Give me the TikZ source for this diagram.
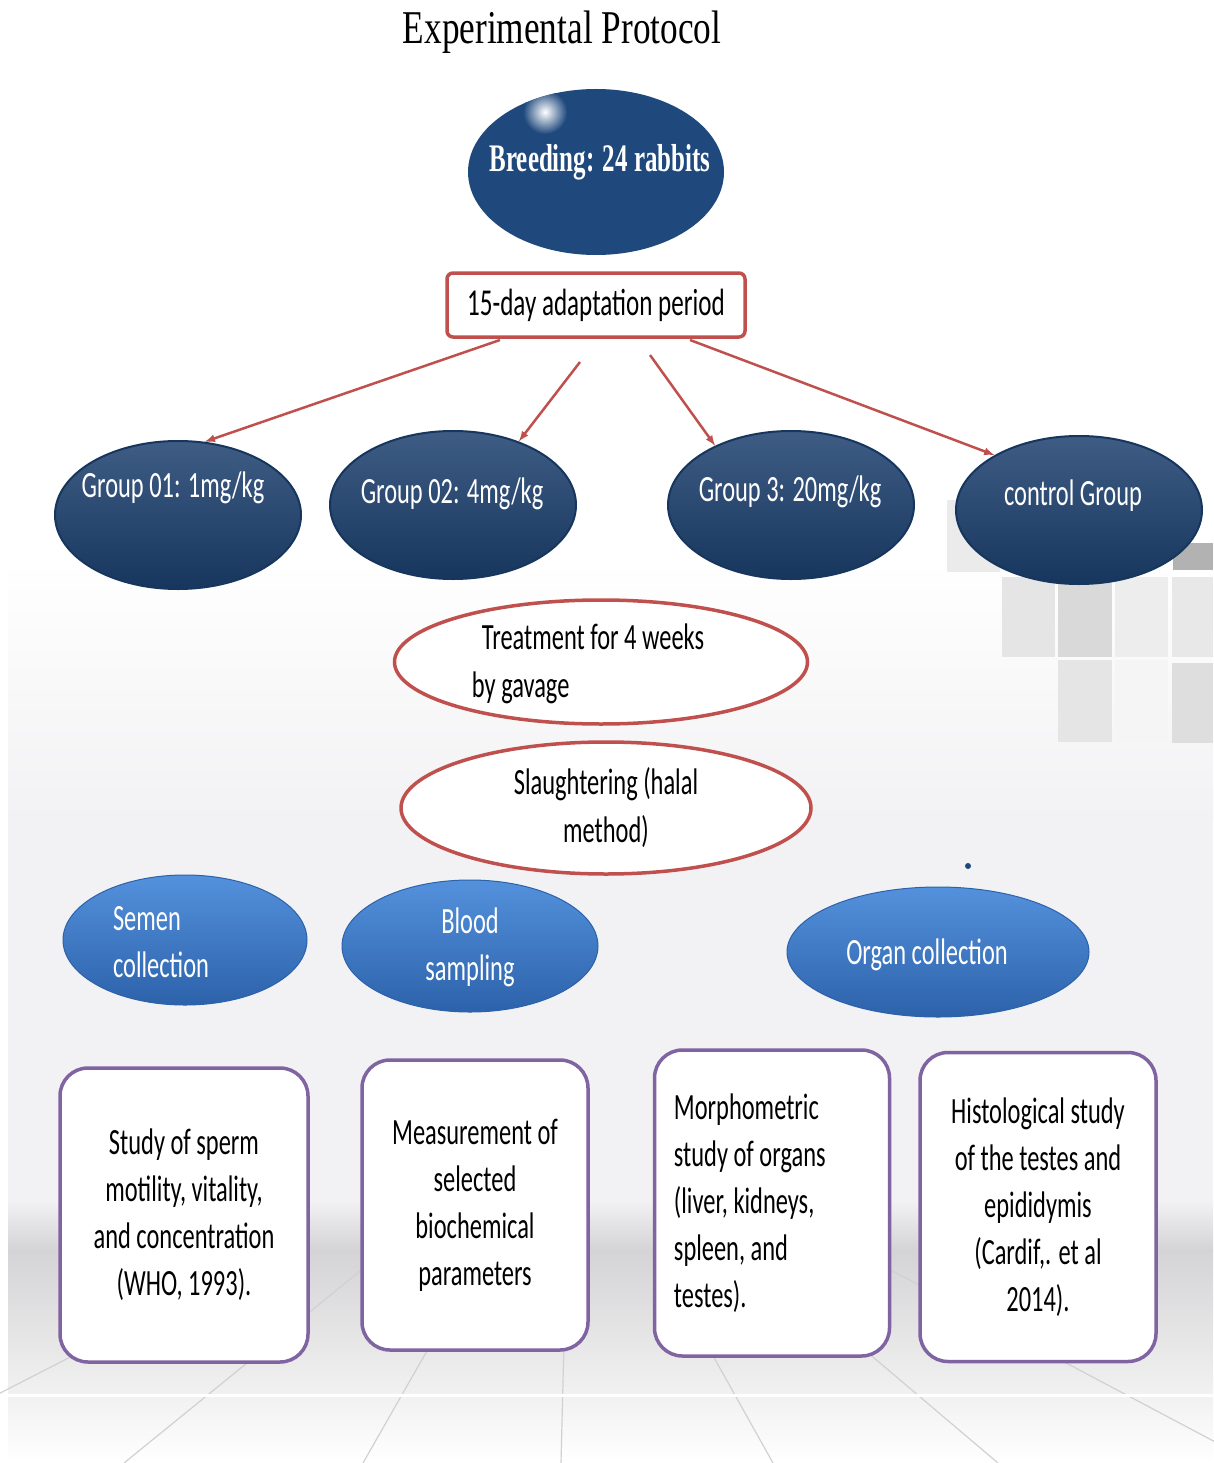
\documentclass[tikz,border=0pt]{standalone}
\usepackage{fontspec}
\setmainfont{Carlito}[FakeStretch=0.66]
\newfontfamily\titlefont{Liberation Serif}[FakeStretch=0.75]
\newfontfamily\breedfont{Liberation Serif}[FakeStretch=0.64]
\usetikzlibrary{shapes.geometric}

\definecolor{breedblue}{RGB}{31,73,125}
\definecolor{navy}{RGB}{23,54,93}
\definecolor{navytop}{RGB}{62,92,132}
\definecolor{redline}{RGB}{192,80,77}
\definecolor{samptop}{RGB}{84,145,220}
\definecolor{sampbot}{RGB}{44,98,170}
\definecolor{studyline}{RGB}{128,100,162}
\definecolor{bggray}{RGB}{242,242,244}
\definecolor{floorgray}{RGB}{212,212,214}

\begin{document}
\begin{tikzpicture}[x=1pt, y=-1pt, >=latex,
    grp/.style={ellipse, minimum width=246pt, minimum height=148pt,
        top color=navytop, bottom color=navy, draw=navy, line width=2pt},
    grptxt/.style={text=white, font=\fontsize{37}{44}\selectfont},
    redell/.style={ellipse, draw=redline, line width=3.5pt, fill=white,
        font=\fontsize{37}{48}\selectfont},
    sample/.style={ellipse, minimum height=130pt, top color=samptop,
        bottom color=sampbot, draw=sampbot, line width=1pt},
    sampletxt/.style={text=white, font=\fontsize{37}{47}\selectfont},
    study/.style={draw=studyline, line width=3.5pt, fill=white,
        rounded corners=28pt, font=\fontsize{37}{47}\selectfont},
    studytxt/.style={font=\fontsize{37}{47}\selectfont},
    arr/.style={->, draw=redline, line width=2.5pt}]
    \useasboundingbox (0,0) rectangle (1213,1463);

    % background
    \fill[white] (0,0) rectangle (1213,1463);
    \shade[top color=white, bottom color=bggray] (8,560) rectangle (1213,820);
    \fill[bggray] (8,820) rectangle (1213,1240);
    \shade[top color=bggray, bottom color=floorgray] (8,1200) rectangle (1213,1250);
    \shade[top color=floorgray, bottom color=white] (8,1250) rectangle (1213,1463);
    \foreach \bx in {-136,124,363,561,773,998,1255}{
        \pgfmathsetmacro\tx{\bx+(570-\bx)*0.554}
        \draw[black!18, line width=1.2pt] (\bx,1463) -- (\tx,1262);
    }
    \draw[white, line width=3pt] (8,1395) -- (1213,1395);
    \foreach \xa/\ya/\xb/\yb/\g in {947/500/1000/572/8, 1173/543/1213/570/30,
        1002/577/1055/657/10, 1058/577/1112/657/15, 1115/577/1168/657/7,
        1172/577/1213/657/9, 1058/660/1112/742/10, 1115/660/1168/742/4,
        1172/663/1213/743/13}
        \fill[black!\g] (\xa,\ya) rectangle (\xb,\yb);

    \node[font=\titlefont\fontsize{47}{50}\selectfont] (title) at (562,32) {Experimental Protocol};

    % breeding
    \node[ellipse, fill=breedblue, minimum width=256pt, minimum height=166pt] (breed) at (596,172) {};
    \begin{scope}
        \clip (596,172) ellipse (128 and 83);
        \shade[inner color=white, outer color=breedblue] (545,112) circle (22);
    \end{scope}
    \node[text=white, font=\breedfont\bfseries\fontsize{39}{42}\selectfont] (breedtxt)
        at ([xshift=4pt, yshift=10pt]breed.center) {Breeding: 24 rabbits};

    \node[draw=redline, line width=3.5pt, fill=white, rounded corners=6pt,
        minimum width=298pt, minimum height=64pt, font=\fontsize{38}{40}\selectfont]
        (adapt) at (596,305) {15-day adaptation period};

    % groups
    \node[grp] (g1) at (178,515) {};
    \node[grp] (g2) at (453,505) {};
    \node[grp] (g3) at (791,505) {};
    \node[grp] (gc) at (1079,510) {};
    \node[grptxt] (g1txt) at (173,488) {Group 01: 1mg/kg};
    \node[grptxt] (g2txt) at (452,494) {Group 02: 4mg/kg};
    \node[grptxt] (g3txt) at (790,492) {Group 3: 20mg/kg};
    \node[grptxt] (gctxt) at (1073,496) {control Group};

    \coordinate (s1) at (500,340);
    \coordinate (s2) at (580,362);
    \coordinate (s3) at (650,355);
    \coordinate (s4) at (690,340);
    \draw[arr] (s1) -- (g1.70);
    \draw[arr] (s2) -- (g2.44);
    \draw[arr] (s3) -- (g3.142);
    \draw[arr] (s4) -- (gc.147);

    % treatment and slaughtering
    \node[redell, minimum width=413pt, minimum height=124pt] (treat) at (601,662) {};
    \node[font=\fontsize{37}{48}\selectfont, align=left] (treattxt) at (588,664)
        {\hspace{10pt}Treatment for 4 weeks\\by gavage};
    \node[redell, minimum width=410pt, minimum height=132pt, align=center]
        (slaught) at (606,808) {Slaughtering (halal\\method)};
    \fill[breedblue] (968,866) circle (3);

    % samples
    \node[sample, minimum width=244pt] (semen) at (185,940) {};
    \node[sampletxt, align=left] (sementxt) at (161,942) {Semen\\collection};
    \node[sample, minimum width=256pt, minimum height=132pt] (blood) at (470,946) {};
    \node[sampletxt, align=center] (bloodtxt) at (470,947) {Blood\\sampling};
    \node[sample, minimum width=302pt] (organ) at (938,952) {};
    \node[sampletxt] (organtxt) at (927,955) {Organ collection};

    % studies
    \node[study, minimum width=248pt, minimum height=294pt, align=center] (sperm)
        at (184,1215) {Study of sperm\\motility, vitality,\\and concentration\\(WHO, 1993).};
    \node[study, minimum width=226pt, minimum height=290pt, align=center] (biochem)
        at (475,1205) {Measurement of\\selected\\biochemical\\parameters};
    \node[study, minimum width=235pt, minimum height=306pt] (morpho) at (772,1203) {};
    \node[studytxt, align=left, anchor=west, inner sep=0pt] (morphotxt)
        at ([xshift=21pt]morpho.west) {Morphometric\\study of organs\\(liver, kidneys,\\spleen, and\\testes).};
    \node[study, minimum width=236pt, minimum height=309pt, align=center] (histo)
        at (1038,1207) {Histological study\\of the testes and\\epididymis\\(Cardif,. et al\\2014).};
\end{tikzpicture}
\end{document}
